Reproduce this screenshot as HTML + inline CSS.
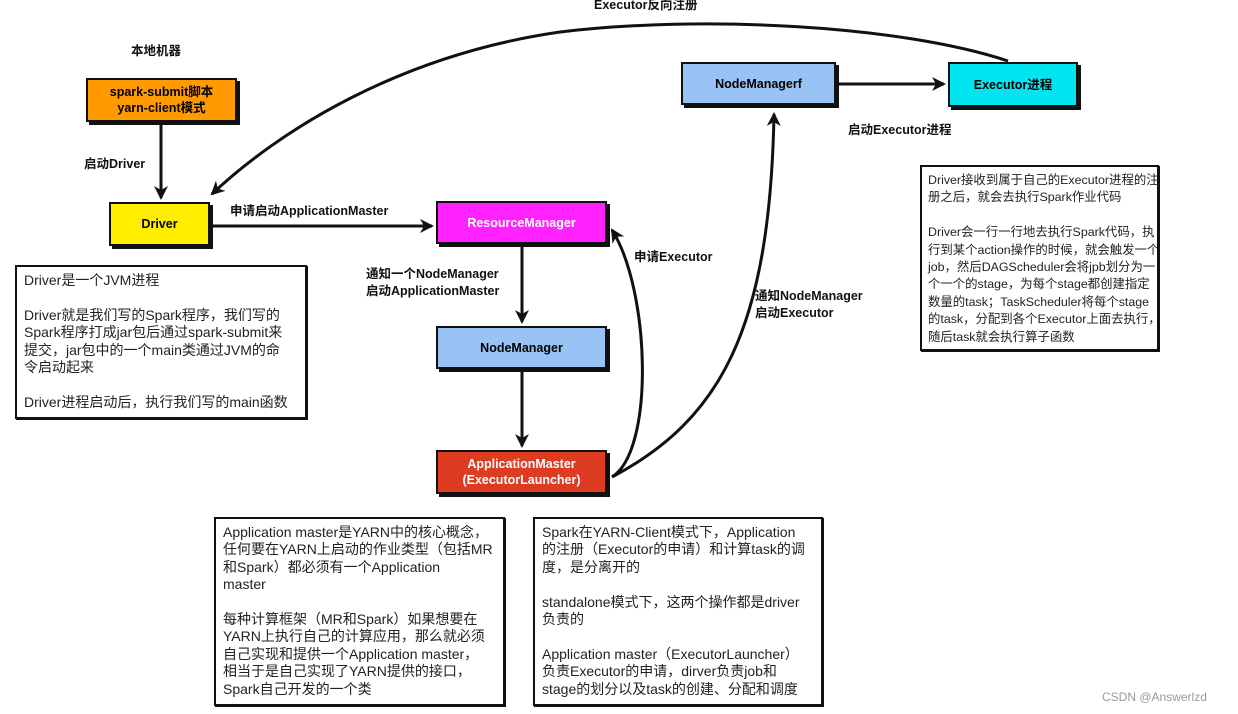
<!DOCTYPE html>
<html><head><meta charset="utf-8"><style>
body{margin:0;background:#fff;width:1238px;height:714px;overflow:hidden;position:relative;font-family:"Liberation Sans","Noto Sans CJK SC",sans-serif;}
.n{position:absolute;border:2px solid #111;box-shadow:3px 3px 0 #111;display:flex;align-items:center;justify-content:center;text-align:center;font-weight:bold;font-size:12.5px;line-height:16px;box-sizing:border-box;}
.t{position:absolute;border:2px solid #111;box-sizing:border-box;font-size:14px;line-height:17.4px;color:#222;padding:5px 7px;box-shadow:1px 1px 0 #111;white-space:nowrap;overflow:hidden;}
.l{position:absolute;font-weight:bold;font-size:12.5px;line-height:17px;color:#111;white-space:nowrap;}
svg{position:absolute;left:0;top:0;}
</style></head><body>
<svg width="1238" height="714">
<defs>
<marker id="b" markerWidth="14" markerHeight="14" refX="12" refY="7" orient="auto" markerUnits="userSpaceOnUse"><path d="M0,0 L14,7 L0,14 L4,7 z" fill="#111"/></marker></defs>
<g stroke="#111" stroke-width="3" fill="none">
<line x1="161" y1="124" x2="161" y2="198" marker-end="url(#b)"/>
<line x1="212" y1="226" x2="432" y2="226" marker-end="url(#b)"/>
<line x1="522" y1="246" x2="522" y2="322" marker-end="url(#b)"/>
<line x1="522" y1="371" x2="522" y2="446" marker-end="url(#b)"/>
<line x1="838" y1="84" x2="944" y2="84" marker-end="url(#b)"/>
<path d="M612,477 C655,450 650,290 612,230" marker-end="url(#b)"/>
<path d="M612,477 C720,420 770,330 774,114" marker-end="url(#b)"/>
<path d="M1008,61 C900,25 700,15 560,32 C400,55 280,130 212,194" marker-end="url(#b)"/>
</g>
</svg>
<div class="l" style="left:131px;top:43px">本地机器</div>
<div class="n" style="left:86px;top:78px;width:151px;height:44px;background:#ff9a00">spark-submit脚本<br>yarn-client模式</div>
<div class="l" style="left:84px;top:156px">启动Driver</div>
<div class="n" style="left:109px;top:202px;width:101px;height:44px;background:#ffee00">Driver</div>
<div class="l" style="left:230px;top:203px">申请启动ApplicationMaster</div>
<div class="n" style="left:436px;top:201px;width:171px;height:43px;background:#ff22ff;color:#fff">ResourceManager</div>
<div class="l" style="left:366px;top:266px">通知一个NodeManager<br>启动ApplicationMaster</div>
<div class="n" style="left:436px;top:326px;width:171px;height:43px;background:#99c2f5">NodeManager</div>
<div class="n" style="left:436px;top:450px;width:171px;height:44px;background:#dd3b22;color:#fff">ApplicationMaster<br>(ExecutorLauncher)</div>
<div class="l" style="left:634px;top:249px">申请Executor</div>
<div class="l" style="left:755px;top:288px">通知NodeManager<br>启动Executor</div>
<div class="n" style="left:681px;top:62px;width:155px;height:43px;background:#99c2f5">NodeManagerf</div>
<div class="n" style="left:948px;top:62px;width:130px;height:45px;background:#00e5f0">Executor进程</div>
<div class="l" style="left:848px;top:122px">启动Executor进程</div>
<div class="l" style="left:594px;top:-3px">Executor反向注册</div>
<div class="t" style="left:15px;top:265px;width:292px;height:154px">Driver是一个JVM进程<br><br>Driver就是我们写的Spark程序，我们写的<br>Spark程序打成jar包后通过spark-submit来<br>提交，jar包中的一个main类通过JVM的命<br>令启动起来<br><br>Driver进程启动后，执行我们写的main函数</div>
<div class="t" style="left:920px;top:165px;width:239px;height:186px;font-size:12.4px;padding:5px 6px">Driver接收到属于自己的Executor进程的注<br>册之后，就会去执行Spark作业代码<br><br>Driver会一行一行地去执行Spark代码，执<br>行到某个action操作的时候，就会触发一个<br>job，然后DAGScheduler会将jpb划分为一<br>个一个的stage，为每个stage都创建指定<br>数量的task；TaskScheduler将每个stage<br>的task，分配到各个Executor上面去执行，<br>随后task就会执行算子函数</div>
<div class="t" style="left:214px;top:517px;width:291px;height:189px">Application master是YARN中的核心概念，<br>任何要在YARN上启动的作业类型（包括MR<br>和Spark）都必须有一个Application<br>master<br><br>每种计算框架（MR和Spark）如果想要在<br>YARN上执行自己的计算应用，那么就必须<br>自己实现和提供一个Application master，<br>相当于是自己实现了YARN提供的接口，<br>Spark自己开发的一个类</div>
<div class="t" style="left:533px;top:517px;width:290px;height:189px">Spark在YARN-Client模式下，Application<br>的注册（Executor的申请）和计算task的调<br>度，是分离开的<br><br>standalone模式下，这两个操作都是driver<br>负责的<br><br>Application master（ExecutorLauncher）<br>负责Executor的申请，dirver负责job和<br>stage的划分以及task的创建、分配和调度</div>
<div style="position:absolute;left:1102px;top:690px;font-size:12px;color:#999">CSDN @Answerlzd</div>
</body></html>
